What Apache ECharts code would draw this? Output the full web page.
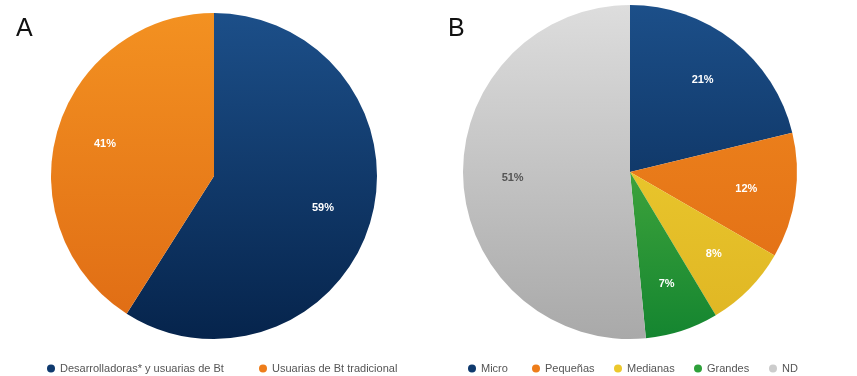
<!DOCTYPE html>
<html>
<head>
<meta charset="utf-8">
<script src="https://cdn.jsdelivr.net/npm/echarts@6/dist/echarts.min.js"></script>
<style>
  html, body { margin: 0; padding: 0; background: #fff; }
  #main { width: 857px; height: 376px; }
</style>
</head>
<body>
<div id="main"></div>
<script>
    // datos
    var tipoNombres = ['Desarrolladoras* y usuarias de Bt', 'Usuarias de Bt tradicional'];
    var tipoValores = [59, 41];

    var tamanoNombres = ['Micro', 'Pequeñas', 'Medianas', 'Grandes', 'ND'];
    var tamanoValores = [21, 12, 8, 7, 51];

    var dom = document.getElementById('main');
    var myChart = echarts.init(dom, null, { renderer: 'canvas' });

    function grad(top, bottom, y0, y1) {
        return new echarts.graphic.LinearGradient(0, y0, 0, y1, [
            { offset: 0, color: top },
            { offset: 1, color: bottom }
        ], true);
    }

    var coloresA = [['#1c4f89', '#06244c'], ['#f39121', '#df6b14']];
    var coloresB = [['#1c4f89', '#05234b'], ['#f18b1f', '#e06a14'], ['#f1d434', '#dfb523'],
                    ['#66c046', '#148530'], ['#dddddd', '#a9a9a9']];
    var legendA = ['#0f3a6e', '#ee7d1a'];
    var legendB = ['#0f3a6e', '#ee7d1a', '#ecc82c', '#2ea03a', '#cccccc'];
    // posicion x de cada punto de la leyenda
    var legPosA = [46, 258];
    var legPosB = [467, 531, 613, 693, 768];

    var dataA = tipoNombres.map(function (n, i) {
        return { name: n, value: tipoValores[i],
            itemStyle: { color: grad(coloresA[i][0], coloresA[i][1], 13, 339) } };
    });
    var dataB = tamanoNombres.map(function (n, i) {
        return { name: n, value: tamanoValores[i],
            itemStyle: { color: grad(coloresB[i][0], coloresB[i][1], 5, 339) } };
    });

    function labelData(nombres, valores, colores) {
        return nombres.map(function (n, i) {
            return { name: n, value: valores[i], label: { color: colores[i] } };
        });
    }

    var lblFont = { fontFamily: 'Liberation Sans, Arial, sans-serif', fontSize: 11, fontWeight: 'bold' };
    var legFont = { fontFamily: 'Liberation Sans, Arial', fontSize: 11, color: '#555' };

    function leyendas(nombres, colores, xs) {
        return nombres.map(function (n, i) {
            return {
                data: [{ name: n, itemStyle: { color: colores[i] } }],
                left: xs[i] - 4, top: 358, icon: 'circle', itemWidth: 8, itemHeight: 8,
                textStyle: legFont
            };
        });
    }

    option = {
        backgroundColor: '#fff',
        animation: false,
        title: [
            { text: 'A', left: 11, top: 12, textStyle: { fontFamily: 'Liberation Sans, Arial', fontSize: 25, fontWeight: 'normal', color: '#111' } },
            { text: 'B', left: 443, top: 12, textStyle: { fontFamily: 'Liberation Sans, Arial', fontSize: 25, fontWeight: 'normal', color: '#111' } }
        ],
        legend: leyendas(tipoNombres, legendA, legPosA).concat(leyendas(tamanoNombres, legendB, legPosB)),
        series: [{
            type: 'pie', center: [214, 176], radius: [0, 163], startAngle: 90, clockwise: true,
            label: { show: false }, labelLine: { show: false }, emphasis: { disabled: true },
            data: dataA
        }, {
            type: 'pie', center: [214, 176], radius: [58, 163], startAngle: 90, silent: true,
            itemStyle: { color: 'rgba(0,0,0,0)' }, legendHoverLink: false,
            label: Object.assign({ show: true, position: 'inside', formatter: '{c}%' }, lblFont),
            labelLine: { show: false },
            data: labelData(tipoNombres, tipoValores, ['#fff', '#fff'])
        }, {
            type: 'pie', center: [630, 172], radius: [0, 167], startAngle: 90, clockwise: true,
            label: { show: false }, labelLine: { show: false }, emphasis: { disabled: true },
            data: dataB
        }, {
            type: 'pie', center: [630, 172], radius: [62, 167], startAngle: 90, silent: true,
            itemStyle: { color: 'rgba(0,0,0,0)' }, legendHoverLink: false,
            label: Object.assign({ show: true, position: 'inside', formatter: '{c}%' }, lblFont),
            labelLine: { show: false },
            data: labelData(tamanoNombres, tamanoValores, ['#fff', '#fff', '#fff', '#fff', '#555'])
        }]
    };

    option && myChart.setOption(option);
</script>
</body>
</html>
